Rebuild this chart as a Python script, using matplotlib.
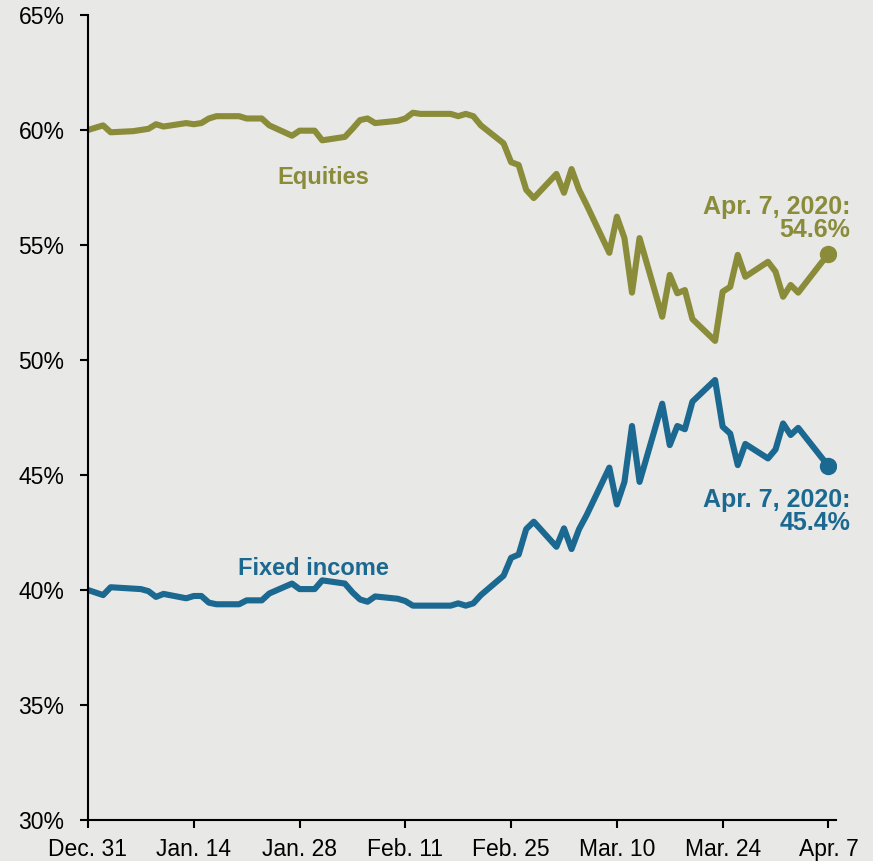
import pandas as pd
import matplotlib.pyplot as plt
from matplotlib.ticker import FuncFormatter

# ------------------------------------------------------------------
# Data: portfolio allocation, Dec. 31, 2019 - Apr. 7, 2020 (trading days)
# ------------------------------------------------------------------
dates = pd.bdate_range("2019-12-31", "2020-04-07", freq="C", holidays=["2020-01-01"])

equities = [
    60.0,
    60.2, 59.9, 59.95, 60.0, 60.05, 60.25, 60.15, 60.3, 60.25, 60.3, 60.5, 60.6,
    60.6, 60.5, 60.5, 60.5, 60.2, 59.75, 59.97, 59.97, 59.97, 59.55,
    59.7, 60.05, 60.43, 60.5, 60.3, 60.4, 60.5, 60.75, 60.7, 60.7,
    60.7, 60.6, 60.7, 60.6, 60.2, 59.42, 58.6, 58.48, 57.4, 57.04,
    58.09, 57.27, 58.3, 57.4, 56.74, 54.66, 56.23, 55.3, 52.93, 55.3,
    51.88, 53.7, 52.9, 53.04, 51.78, 50.83, 52.97, 53.18, 54.57, 53.62,
    54.27, 53.84, 52.75, 53.26, 52.93, 54.2, 54.6,
]

fixed_income = [
    40.0,
    39.78, 40.12, 40.06, 40.04, 39.95, 39.7, 39.83, 39.64, 39.74, 39.74, 39.45, 39.38,
    39.38, 39.55, 39.55, 39.55, 39.85, 40.28, 40.04, 40.04, 40.04, 40.42,
    40.28, 39.9, 39.59, 39.49, 39.72, 39.62, 39.52, 39.32, 39.32, 39.32,
    39.32, 39.42, 39.32, 39.42, 39.78, 40.62, 41.4, 41.54, 42.65, 42.97,
    41.88, 42.68, 41.78, 42.65, 43.26, 45.32, 43.72, 44.7, 47.13, 44.7,
    48.1, 46.3, 47.13, 46.99, 48.19, 49.13, 47.1, 46.8, 45.43, 46.35,
    45.72, 46.11, 47.24, 46.74, 47.05, 45.8, 45.4,
]

tick_dates = pd.date_range("2019-12-31", "2020-04-07", freq="14D")
tick_labels = ["Dec. 31", "Jan. 14", "Jan. 28", "Feb. 11", "Feb. 25",
               "Mar. 10", "Mar. 24", "Apr. 7"]

EQ_COLOR = "#8a8c3a"
FI_COLOR = "#1b6890"
BG = "#e8e8e7"

plt.rcParams["font.family"] = ["Liberation Sans", "DejaVu Sans"]

fig = plt.figure(figsize=(8.73, 8.61), dpi=100, facecolor=BG)
ax = fig.add_axes([0.1008, 0.0476, 0.8568, 0.935])
ax.set_facecolor(BG)

ax.plot(dates, equities, color=EQ_COLOR, lw=4.4, solid_joinstyle="round")
ax.plot(dates, fixed_income, color=FI_COLOR, lw=4.4, solid_joinstyle="round")
ax.plot(dates[-1], equities[-1], "o", color=EQ_COLOR, ms=11.5)
ax.plot(dates[-1], fixed_income[-1], "o", color=FI_COLOR, ms=11.5)

# end-point labels
ax.annotate(f"Apr. 7, 2020:\n{equities[-1]:.1f}%", (dates[-1], equities[-1]),
            xytext=(22, 12), textcoords="offset pixels", ha="right", va="bottom",
            fontsize=18, fontweight="bold", color=EQ_COLOR, linespacing=0.98)
ax.annotate(f"Apr. 7, 2020:\n{fixed_income[-1]:.1f}%", (dates[-1], fixed_income[-1]),
            xytext=(22, -22), textcoords="offset pixels", ha="right", va="top",
            fontsize=18, fontweight="bold", color=FI_COLOR, linespacing=0.98)

# series labels
ax.text(0.314, 0.798, "Equities", transform=ax.transAxes, ha="center", va="center",
        fontsize=17, fontweight="bold", color=EQ_COLOR)
ax.text(0.301, 0.312, "Fixed income", transform=ax.transAxes, ha="center", va="center",
        fontsize=17, fontweight="bold", color=FI_COLOR)

ax.set_ylim(30, 65)
ax.set_yticks(range(30, 66, 5))
ax.yaxis.set_major_formatter(FuncFormatter(lambda v, p: f"{v:.0f}%"))
ax.set_xlim(pd.Timestamp("2019-12-31"), pd.Timestamp("2020-04-08"))
ax.set_xticks(tick_dates)
ax.set_xticklabels(tick_labels)

for side in ["top", "right"]:
    ax.spines[side].set_visible(False)
for side in ["left", "bottom"]:
    ax.spines[side].set_linewidth(1.5)
    ax.spines[side].set_color("black")

ax.tick_params(axis="y", direction="out", length=6, width=1.5, pad=11, labelsize=16.5)
ax.tick_params(axis="x", direction="out", length=6, width=1.5, pad=7, labelsize=16.5)

fig.savefig("out.png", dpi=100, facecolor=BG)
